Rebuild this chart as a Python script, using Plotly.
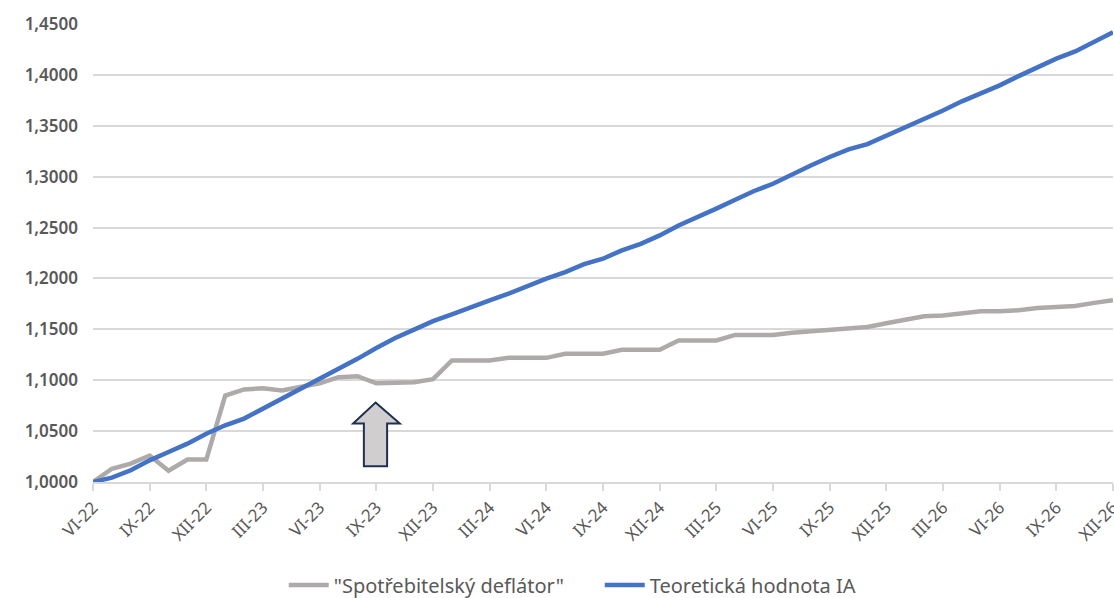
import plotly.graph_objects as go

# Monthly labels VI-22 .. XII-26
roman = ["I", "II", "III", "IV", "V", "VI", "VII", "VIII", "IX", "X", "XI", "XII"]
months = []
for yr in range(22, 27):
    for mi, r in enumerate(roman):
        if yr == 22 and mi < 5:
            continue
        months.append(f"{r}-{yr}")

deflator = [
    1.000, 1.013, 1.018, 1.026, 1.011, 1.022, 1.022,
    1.085, 1.091, 1.092, 1.090, 1.093, 1.097, 1.103, 1.104, 1.097, 1.097, 1.098, 1.101,
    1.1195, 1.1195, 1.1195, 1.122, 1.122, 1.122, 1.126, 1.126, 1.126, 1.130, 1.130, 1.130,
    1.139, 1.139, 1.139, 1.1445, 1.1445, 1.1445, 1.1467, 1.1483, 1.1497, 1.151, 1.1523, 1.156,
    1.1595, 1.1628, 1.1637, 1.1654, 1.1677, 1.1677, 1.1687, 1.171, 1.172, 1.173, 1.176, 1.1785,
]

teoreticka = [
    1.000, 1.0043, 1.0115, 1.0213, 1.0295, 1.0377, 1.0475,
    1.0557, 1.0623, 1.0720, 1.0820, 1.0910, 1.1006, 1.1110, 1.1210, 1.1316, 1.1415, 1.1497, 1.1580,
    1.1647, 1.1720, 1.1785, 1.1850, 1.1930, 1.1998, 1.2063, 1.2140, 1.2194, 1.2276, 1.2340, 1.2423,
    1.2520, 1.2600, 1.2686, 1.2774, 1.2859, 1.2930, 1.3023, 1.3110, 1.3193, 1.3268, 1.3320, 1.3400,
    1.3488, 1.3560, 1.3650, 1.3740, 1.3815, 1.3897, 1.3988, 1.4077, 1.4160, 1.4230, 1.4320, 1.4420,
]

y_ticks = [1.00, 1.05, 1.10, 1.15, 1.20, 1.25, 1.30, 1.35, 1.40, 1.45]

x = list(range(len(months)))
tick_idx = x[::3]

GRID = "#D9D9D9"
TEXT = "#595959"
FONT = "Noto Sans"

fig = go.Figure()
fig.add_trace(go.Scatter(
    x=x, y=deflator, mode="lines", name='"Spotřebitelský deflátor"',
    line=dict(color="#AEAAAA", width=4.5),
))
fig.add_trace(go.Scatter(
    x=x, y=teoreticka, mode="lines", name="Teoretická hodnota IA",
    line=dict(color="#4472C4", width=4.5),
))

# Block arrow pointing up at IX-23
arrow = [(14.96, 1.078), (16.24, 1.0574), (15.57, 1.0574), (15.57, 1.0154),
         (14.34, 1.0154), (14.34, 1.0574), (13.77, 1.0574)]
path = "M " + " L ".join(f"{px},{py}" for px, py in arrow) + " Z"
fig.add_shape(type="path", path=path, xref="x", yref="y",
              fillcolor="#D0CECE", line=dict(color="#203050", width=2))

fig.update_layout(
    width=1114, height=598,
    margin=dict(l=93, r=1, t=24, b=116, autoexpand=False),
    paper_bgcolor="white", plot_bgcolor="white",
    separators=", ",
    font=dict(family=FONT, color=TEXT),
    showlegend=True,
    legend=dict(orientation="h", x=0.187, xanchor="left", y=-0.225, yanchor="middle",
                font=dict(size=20, color=TEXT, family=FONT), itemwidth=40,
                entrywidth=261, entrywidthmode="pixels",
                traceorder="normal"),
)
fig.update_xaxes(
    range=[0, len(months) - 1],
    tickmode="array", tickvals=tick_idx, ticktext=[months[i] for i in tick_idx],
    tickangle=-45, tickfont=dict(size=17, color=TEXT, family=FONT),
    ticklabeloverflow="allow",
    showgrid=False, zeroline=False, automargin=False,
    showline=True, linecolor=GRID, linewidth=2,
    ticks="outside", ticklen=7, tickcolor=GRID, tickwidth=2,
)
fig.update_yaxes(
    range=[1.0, 1.45], automargin=False,
    tickmode="array", tickvals=y_ticks, tickformat=".4f",
    tickfont=dict(size=17, color=TEXT, family=FONT, weight=600),
    showgrid=True, gridcolor=GRID, gridwidth=2,
    zeroline=False, showline=False, ticks="", ticklabelstandoff=14,
)

fig.write_html("out.html")
